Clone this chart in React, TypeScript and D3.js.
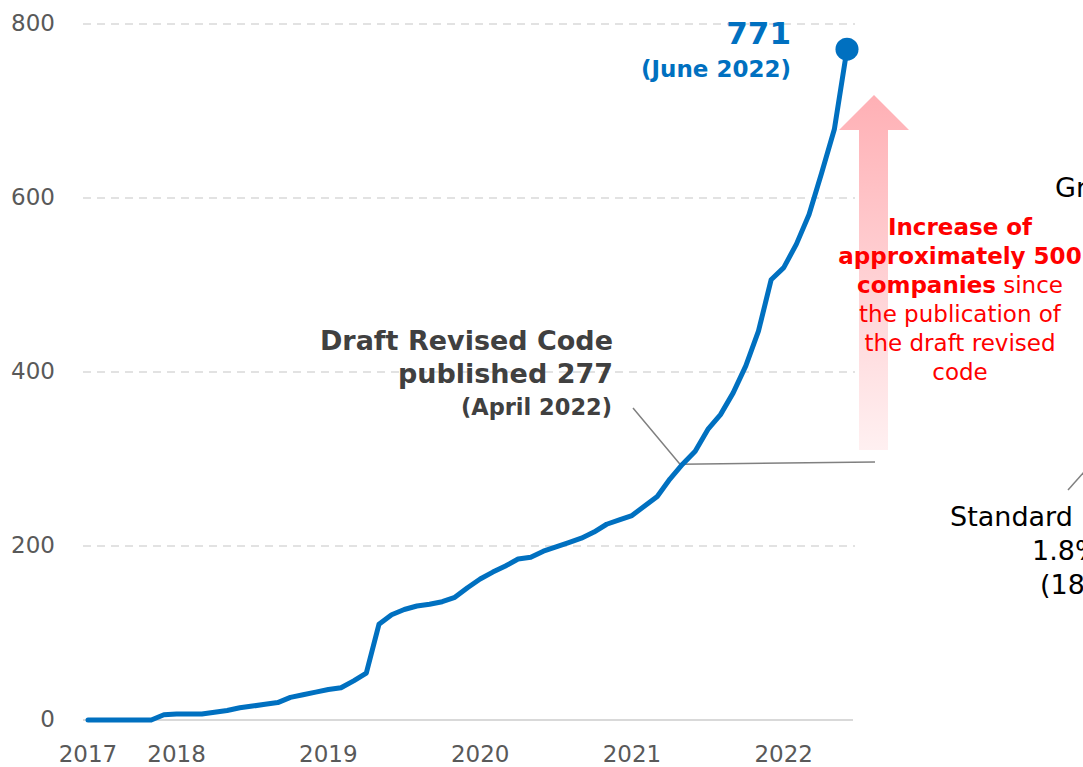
import React from "react";
import * as d3 from "d3";

// Monthly cumulative counts, June 2017 .. June 2022
const values: number[] = [
  0, 0, 0, 0, 0, 0, 6, 7, 7, 7, 9, 11, 14, 16, 18, 20, 26, 29, 32, 35, 37, 45, 54,
  110, 121, 127, 131, 133, 136, 141, 152, 162, 170, 177, 185, 187, 194, 199, 204, 209,
  216, 225, 230, 235, 246, 257, 277, 294, 309, 334, 351, 376, 407, 447, 506, 520, 547,
  581, 629, 679, 771,
];
const yTicks: number[] = [0, 200, 400, 600, 800];
const xTickIndex: number[] = [0, 7, 19, 31, 43, 55];
const xTickLabels: string[] = ["2017", "2018", "2019", "2020", "2021", "2022"];
const annotationIndex = 46;

const W = 1083;
const H = 767;
const FONT = "'DejaVu Sans', Verdana, sans-serif";

export default function App() {
  const x = d3.scaleLinear().domain([0, values.length - 1]).range([88, 847]);
  const y = d3.scaleLinear().domain([0, 800]).range([720, 24]);
  const line = d3
    .line<number>()
    .x((_, i) => x(i))
    .y((d) => y(d));
  const last = values.length - 1;
  // leader corner: point on the curve a little after the annotated month
  const t = 0.8;
  const ax = x(annotationIndex + t);
  const ay =
    y(values[annotationIndex] + t * (values[annotationIndex + 1] - values[annotationIndex])) - 3;

  return (
    <svg
      width={W}
      height={H}
      style={{ position: "absolute", left: 0, top: 0, background: "#fff" }}
      fontFamily={FONT}
    >
      <defs>
        <linearGradient id="arrowGrad" x1="0" y1="0" x2="0" y2="1">
          <stop offset="0" stopColor="#ffb0b5" />
          <stop offset="1" stopColor="#fff0f1" />
        </linearGradient>
      </defs>

      {/* gridlines */}
      {yTicks.map((tk) =>
        tk === 0 ? (
          <line key={tk} x1={83} x2={853} y1={y(tk)} y2={y(tk)} stroke="#d9d9d9" strokeWidth={2} />
        ) : (
          <line
            key={tk}
            x1={83}
            x2={855}
            y1={y(tk)}
            y2={y(tk)}
            stroke="#d9d9d9"
            strokeWidth={1.5}
            strokeDasharray="8,6"
          />
        )
      )}
      {yTicks.map((tk) => (
        <text key={"l" + tk} x={55} y={y(tk) + 7} textAnchor="end" fontSize={23} fill="#595959">
          {tk}
        </text>
      ))}
      {xTickIndex.map((idx, k) => (
        <text key={"x" + idx} x={x(idx)} y={762} textAnchor="middle" fontSize={23} fill="#595959">
          {xTickLabels[k]}
        </text>
      ))}

      {/* arrow */}
      <polygon
        points={`874,95 909,130 888,130 888,450 859,450 859,130 839,130`}
        fill="url(#arrowGrad)"
      />

      {/* leader line for draft annotation */}
      <polyline
        points={`633,408 ${ax},${ay} 875,462`}
        fill="none"
        stroke="#808080"
        strokeWidth={1.5}
      />

      {/* main line */}
      <path
        d={line(values) || ""}
        fill="none"
        stroke="#0070c0"
        strokeWidth={5}
        strokeLinejoin="round"
        strokeLinecap="round"
      />
      <circle cx={x(last)} cy={y(values[last])} r={11.5} fill="#0070c0" />

      {/* end label */}
      <text x={791} y={44} textAnchor="end" fontSize={31} fontWeight="bold" fill="#0070c0">
        {values[last]}
      </text>
      <text x={791} y={77} textAnchor="end" fontSize={23} fontWeight="bold" fill="#0070c0">
        (June 2022)
      </text>

      {/* draft annotation */}
      <text x={613} y={350} textAnchor="end" fontSize={27} fontWeight="bold" fill="#404040">
        Draft Revised Code
      </text>
      <text x={613} y={383} textAnchor="end" fontSize={27} fontWeight="bold" fill="#404040">
        published {values[annotationIndex]}
      </text>
      <text x={612} y={415} textAnchor="end" fontSize={22.5} fontWeight="bold" fill="#404040">
        (April 2022)
      </text>

      {/* red annotation */}
      <g fill="#ff0000" fontSize={23} textAnchor="middle">
        <text x={960} y={235} fontWeight="bold">Increase of</text>
        <text x={960} y={264} fontWeight="bold">approximately 500</text>
        <text x={960} y={293}>
          <tspan fontWeight="bold">companies</tspan> since
        </text>
        <text x={960} y={322}>the publication of</text>
        <text x={960} y={351}>the draft revised</text>
        <text x={960} y={380}>code</text>
      </g>

      {/* right-side labels, cut off at the edge as in the reference */}
      <text x={1055} y={197} fontSize={27} fill="#000">Growth</text>
      <line x1={1068} y1={490} x2={1085} y2={471} stroke="#808080" strokeWidth={1.5} />
      <text x={950} y={526} fontSize={27} fill="#000">Standard</text>
      <text x={1032} y={560} fontSize={27} fill="#000">1.8%</text>
      <text x={1040} y={594} fontSize={27} fill="#000">(18 companies)</text>
    </svg>
  );
}
